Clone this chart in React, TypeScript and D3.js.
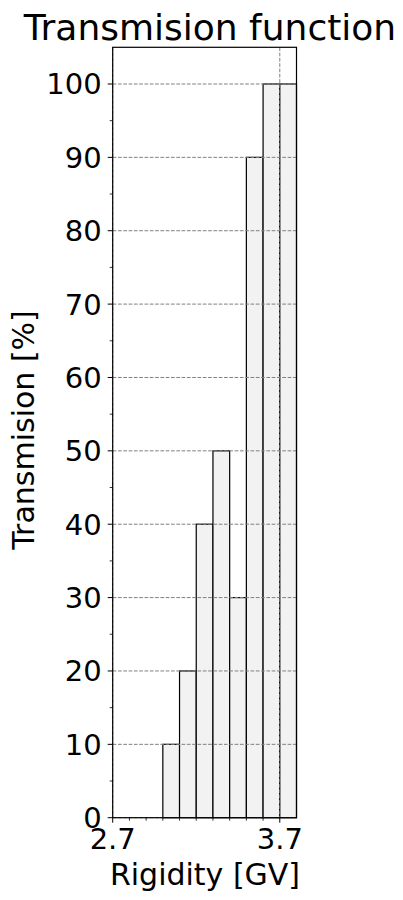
import React from "react";
import * as d3 from "d3";

const binStarts = [2.7, 2.8, 2.9, 3.0, 3.1, 3.2, 3.3, 3.4, 3.5, 3.6, 3.7];
const transmission = [0, 0, 0, 10, 20, 40, 50, 30, 90, 100, 100];
const binWidth = 0.1;
const xMajorTicks = [2.7, 3.7];
const xMinorTicks = [2.8, 2.9, 3.0, 3.1, 3.2, 3.3, 3.4, 3.5, 3.6];
const yMajorTicks = [0, 10, 20, 30, 40, 50, 60, 70, 80, 90, 100];
const yMinorTicks = [5, 15, 25, 35, 45, 55, 65, 75, 85, 95];

const W = 403;
const H = 900;
const left = 112.7;
const right = 296.5;
const top = 47.3;
const bottom = 817.7;
const font = "DejaVu Sans, sans-serif";
const tickSize = 29;
const labelSize = 30;

export default function App() {
  const x = d3.scaleLinear().domain([2.7, 3.8]).range([left, right]);
  const y = d3.scaleLinear().domain([0, 105]).range([bottom, top]);
  return (
    <svg
      width={W}
      height={H}
      style={{ position: "absolute", left: 0, top: 0, background: "#fff" }}
      fontFamily={font}
    >
      <rect x={0} y={0} width={W} height={H} fill="#fff" />
      {binStarts.map((b, i) =>
        transmission[i] > 0 ? (
          <rect
            key={i}
            x={x(b)}
            y={y(transmission[i])}
            width={x(b + binWidth) - x(b)}
            height={y(0) - y(transmission[i])}
            fill="#f2f2f2"
            stroke="#000"
            strokeWidth={1.2}
          />
        ) : null
      )}
      {yMajorTicks.map((t) => (
        <line
          key={"gy" + t}
          x1={left}
          x2={right}
          y1={y(t)}
          y2={y(t)}
          stroke="#808080"
          strokeWidth={1}
          strokeDasharray="3.7,1.6"
        />
      ))}
      {xMajorTicks.map((t) => (
        <line
          key={"gx" + t}
          x1={x(t)}
          x2={x(t)}
          y1={top}
          y2={bottom}
          stroke="#808080"
          strokeWidth={1}
          strokeDasharray="3.7,1.6"
        />
      ))}
      <rect
        x={left}
        y={top}
        width={right - left}
        height={bottom - top}
        fill="none"
        stroke="#000"
        strokeWidth={1.2}
      />
      {yMajorTicks.map((t) => (
        <g key={"yt" + t}>
          <line x1={left - 5} x2={left} y1={y(t)} y2={y(t)} stroke="#000" strokeWidth={1} />
          <text
            x={left - 11}
            y={y(t)}
            dy="0.36em"
            textAnchor="end"
            fontSize={tickSize}
            fill="#000"
          >
            {t}
          </text>
        </g>
      ))}
      {yMinorTicks.map((t) => (
        <line key={"ym" + t} x1={left - 3} x2={left} y1={y(t)} y2={y(t)} stroke="#000" strokeWidth={0.8} />
      ))}
      {xMajorTicks.map((t) => (
        <g key={"xt" + t}>
          <line x1={x(t)} x2={x(t)} y1={bottom} y2={bottom + 5} stroke="#000" strokeWidth={1} />
          <text x={x(t)} y={849} textAnchor="middle" fontSize={tickSize} fill="#000">
            {t.toFixed(1)}
          </text>
        </g>
      ))}
      {xMinorTicks.map((t) => (
        <line key={"xm" + t} x1={x(t)} x2={x(t)} y1={bottom} y2={bottom + 3} stroke="#000" strokeWidth={0.8} />
      ))}
      <text x={205} y={885} textAnchor="middle" fontSize={labelSize} fill="#000">
        Rigidity [GV]
      </text>
      <text
        transform={`translate(${34},${430}) rotate(-90)`}
        textAnchor="middle"
        fontSize={labelSize}
        fill="#000"
      >
        Transmision [%]
      </text>
      <text x={210} y={40} textAnchor="middle" fontSize={36} fill="#000">
        Transmision function
      </text>
    </svg>
  );
}
